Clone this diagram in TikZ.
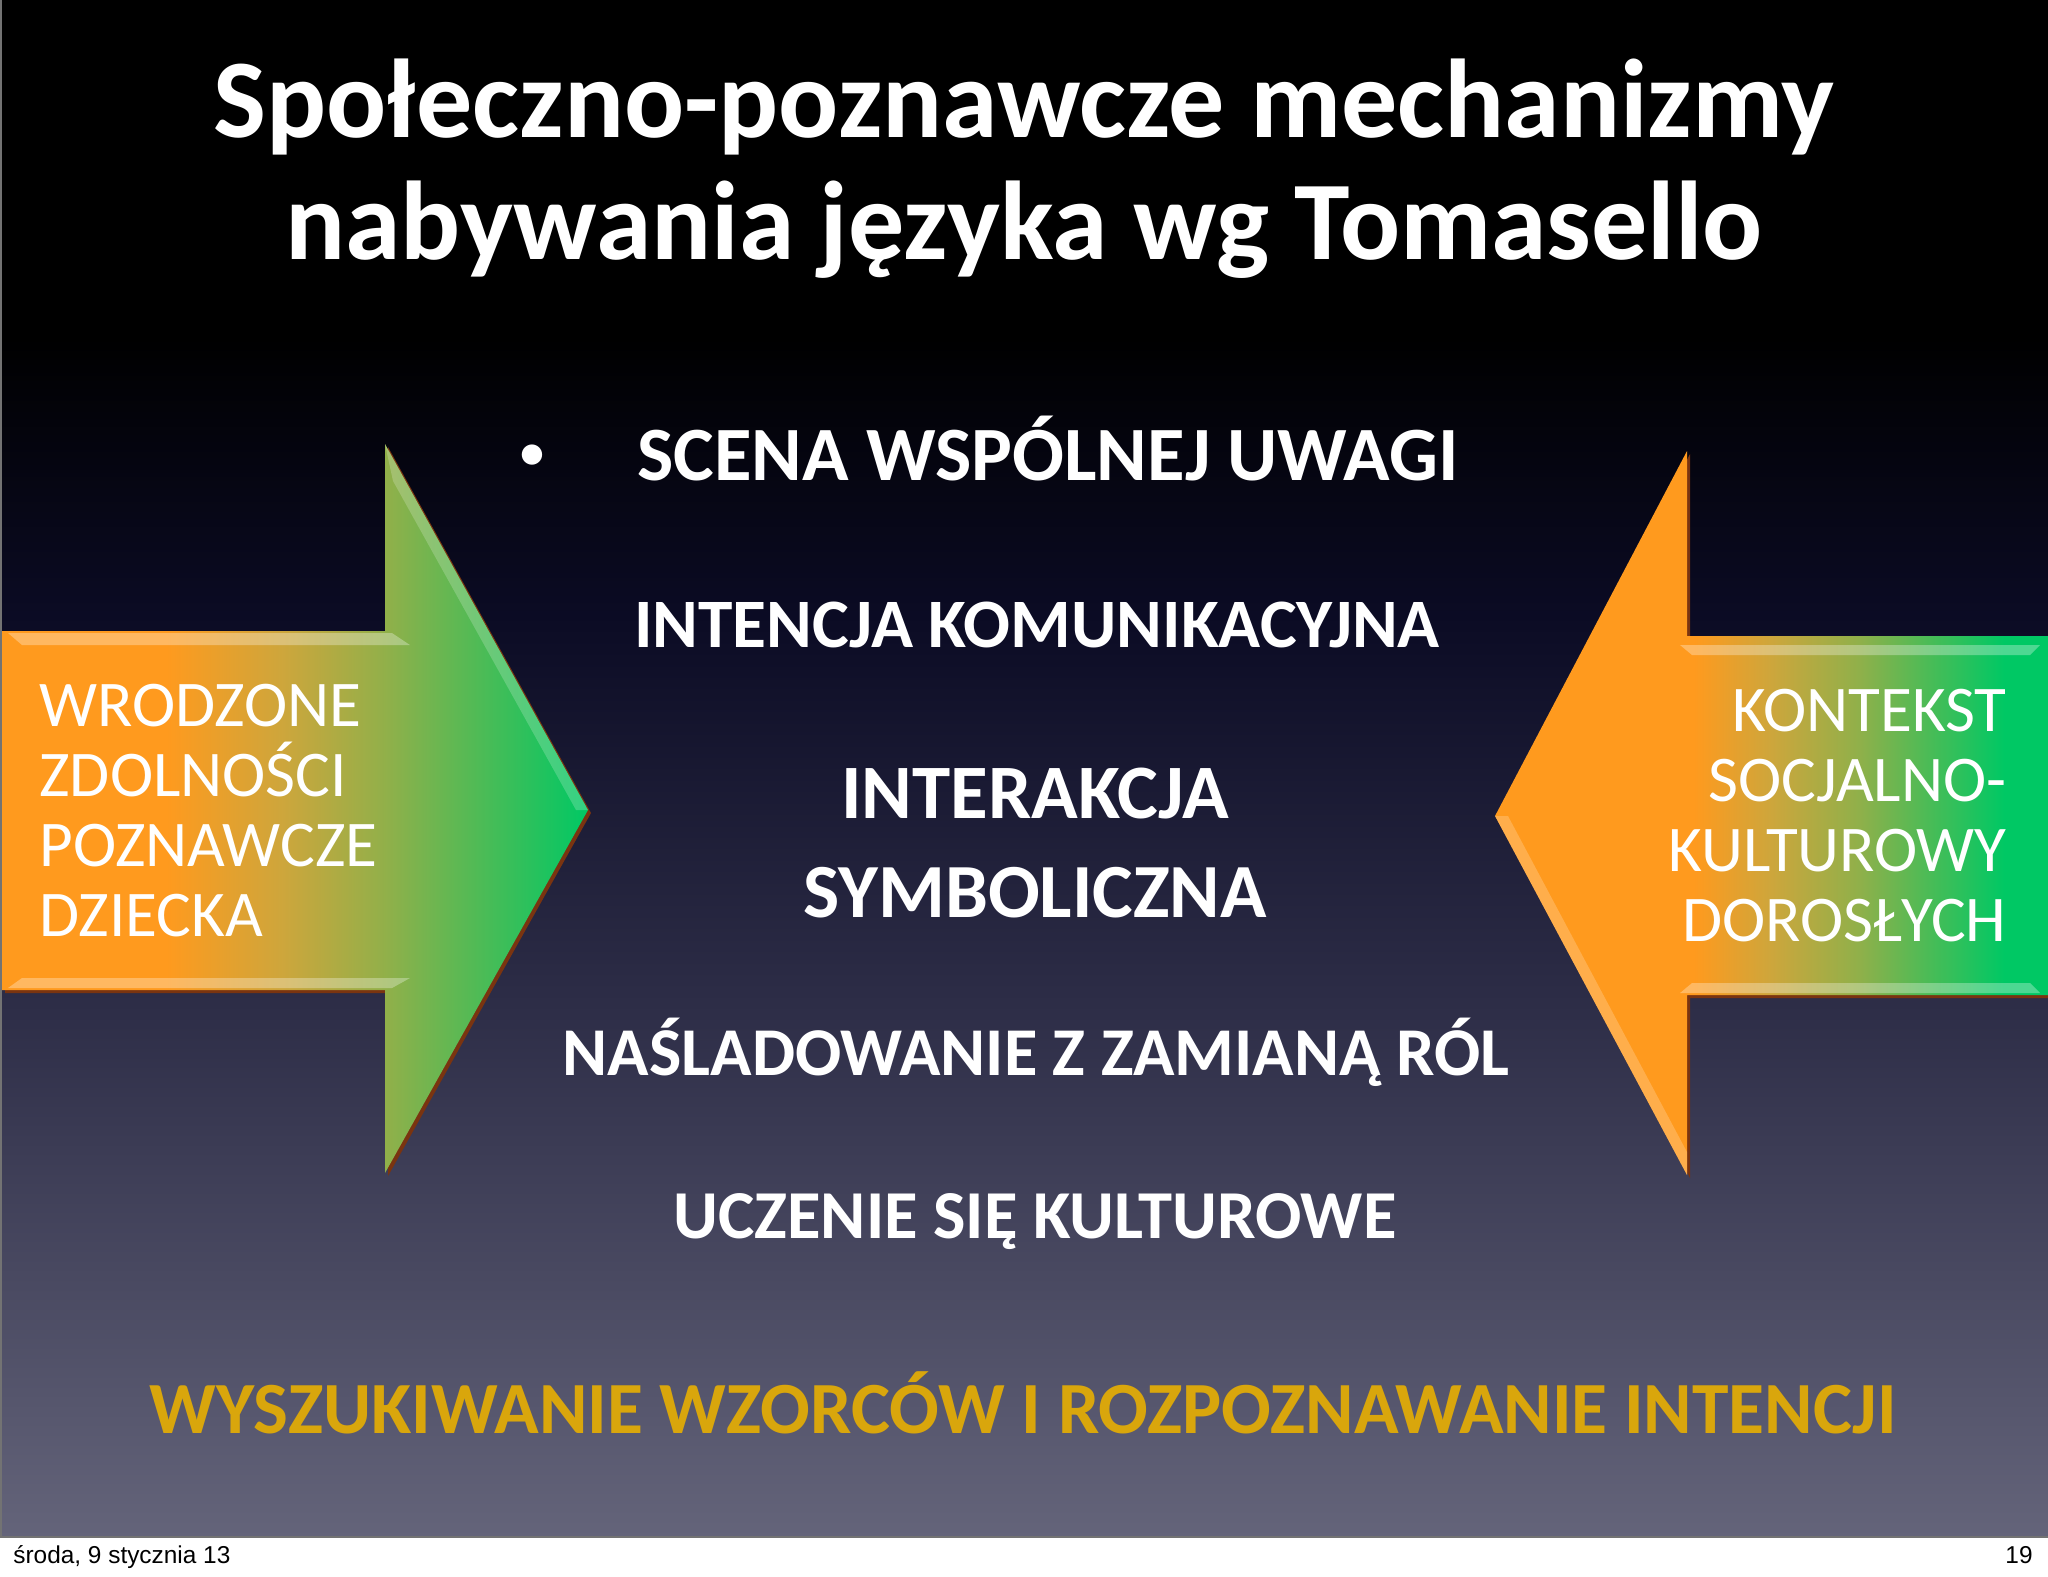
\documentclass[tikz,border=0pt]{standalone}
\usepackage{fontspec}
\setmainfont{Carlito}
\newfontfamily\footfont{Liberation Sans}
\usepackage{xcolor}

\definecolor{bgtop}{HTML}{000000}
\definecolor{bgnavy}{HTML}{0B0B24}
\definecolor{bgmid}{HTML}{2E2E48}
\definecolor{bgbot}{HTML}{64647A}
\definecolor{arrorange}{HTML}{FF9A1E}
\definecolor{arrmustard}{HTML}{CDA63C}
\definecolor{arrolive}{HTML}{8FB04A}
\definecolor{arrgreen}{HTML}{00C864}
\definecolor{arrshadow}{HTML}{7A3410}
\definecolor{gold}{HTML}{D9A60C}

\pgfdeclareverticalshading{slidebg}{100bp}{color(0bp)=(bgbot); color(25bp)=(bgbot); color(42bp)=(bgmid); color(55bp)=(bgnavy); color(64bp)=(bgtop); color(100bp)=(bgtop)}
\pgfdeclarehorizontalshading{leftarr}{100bp}{color(0bp)=(arrorange); color(39bp)=(arrorange); color(49bp)=(arrmustard); color(58bp)=(arrolive); color(75bp)=(arrgreen); color(100bp)=(arrgreen)}
\pgfdeclarehorizontalshading{rightarr}{100bp}{color(0bp)=(arrorange); color(43bp)=(arrorange); color(50bp)=(arrmustard); color(58bp)=(arrolive); color(71bp)=(arrgreen); color(100bp)=(arrgreen)}

\begin{document}
\begin{tikzpicture}[x=0.5pt, y=-0.5pt]
            \tikzstyle{heading} = [font=\fontsize{56}{64}\selectfont\bfseries, text=white, anchor=base, inner sep=0]
            \tikzstyle{item} = [text=white, anchor=base, inner sep=0]
            \tikzstyle{arrowtext} = [font=\fontsize{32.6}{35}\selectfont, text=white, inner sep=0]
            \tikzstyle{shine} = [fill=white, fill opacity=0.3]
            \tikzstyle{footer} = [font=\footfont\fontsize{12.2}{15}\selectfont, text=black, anchor=base, inner sep=0]
            \useasboundingbox (0,0) rectangle (2048,1576);
            \fill[white] (0,0) rectangle (2048,1576);
            \shade[shading=slidebg] (0,0) rectangle (2048,1537);
            \draw[black!55, line width=1pt] (1,0) -- (1,1537) -- (2048,1537);
            % left arrow
            \fill[arrshadow, shift={(3,3)}] (2,631) -- (385,631) -- (385,444) -- (588,810) -- (385,1173) -- (385,990) -- (2,990) -- cycle;
            \shade[shading=leftarr] (2,631) -- (385,631) -- (385,444) -- (588,810) -- (385,1173) -- (385,990) -- (2,990) -- cycle;
            \fill[shine] (8,633) -- (392,633) -- (410,645) -- (22,645) -- cycle;
            \fill[shine] (22,978) -- (410,978) -- (392,988) -- (8,988) -- cycle;
            \fill[shine, fill opacity=0.2] (385,444) -- (588,810) -- (576,810) -- (393,481) -- cycle;
            % right arrow
            \fill[arrshadow, shift={(3,3)}] (2048,636) -- (1687,636) -- (1687,451) -- (1495,816) -- (1687,1175) -- (1687,995) -- (2048,995) -- cycle;
            \shade[shading=rightarr] (2048,636) -- (1687,636) -- (1687,451) -- (1495,816) -- (1687,1175) -- (1687,995) -- (2048,995) -- cycle;
            \fill[shine] (1680,645) -- (2040,645) -- (2030,655) -- (1692,655) -- cycle;
            \fill[shine] (1692,983) -- (2030,983) -- (2040,993) -- (1680,993) -- cycle;
            \fill[shine, fill opacity=0.2] (1495,816) -- (1508,816) -- (1687,1152) -- (1687,1175) -- cycle;
            % title
            \node[heading] (title1) at (1024,137) {Społeczno-poznawcze mechanizmy};
            \node[heading] (title2) at (1024,259) {nabywania języka wg Tomasello};
            % middle column
            \node[item, anchor=center, font=\fontsize{24}{28}\selectfont\bfseries] (bullet) at (532,457) {•};
            \node[item, font=\fontsize{38.4}{44}\selectfont\bfseries] (scena) at (1048,480) {SCENA WSPÓLNEJ UWAGI};
            \node[item, font=\fontsize{34.7}{40}\selectfont\bfseries] (intencja) at (1037,647) {INTENCJA KOMUNIKACYJNA};
            \node[item, font=\fontsize{38.5}{44}\selectfont\bfseries] (interakcja) at (1035,818) {INTERAKCJA};
            \node[item, font=\fontsize{38.3}{44}\selectfont\bfseries] (symboliczna) at (1035,917) {SYMBOLICZNA};
            \node[item, font=\fontsize{34.2}{40}\selectfont\bfseries] (nasladowanie) at (1036,1075) {NAŚLADOWANIE Z ZAMIANĄ RÓL};
            \node[item, font=\fontsize{34.3}{40}\selectfont\bfseries] (uczenie) at (1035,1238) {UCZENIE SIĘ KULTUROWE};
            \node[item, text=gold, font=\fontsize{36.8}{44}\selectfont\bfseries] (wyszukiwanie) at (1023,1433) {WYSZUKIWANIE WZORCÓW I ROZPOZNAWANIE INTENCJI};
            % arrow texts
            \node[arrowtext, anchor=west, align=left] (wrodzone) at (39,811) {WRODZONE\\ZDOLNOŚCI\\POZNAWCZE\\DZIECKA};
            \node[arrowtext, anchor=east, align=right] (kontekst) at (2007,816) {KONTEKST\\SOCJALNO-\\KULTUROWY\\DOROSŁYCH};
            % footer
            \node[footer, anchor=base west] (date) at (13,1563) {środa, 9 stycznia 13};
            \node[footer, anchor=base east] (page) at (2033,1563) {19};
        \end{tikzpicture}
\end{document}
